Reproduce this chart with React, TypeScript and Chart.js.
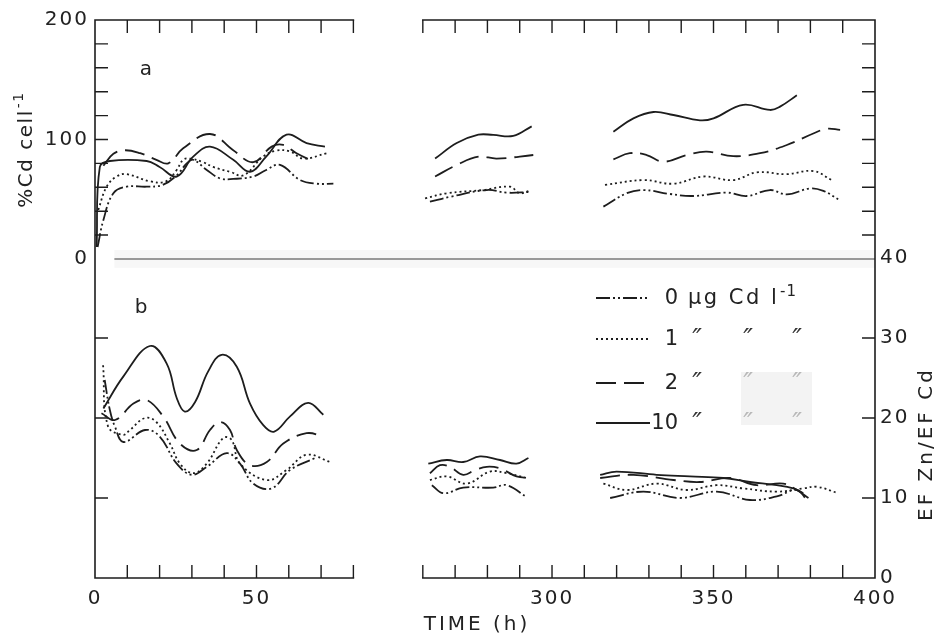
import React, { useEffect, useRef } from 'react';
import { Chart, registerables } from 'chart.js';

Chart.register(...registerables);

// ---- broken time axis: 0–80 h, gap, 260–400 h ----
const SEG1_END = 80;
const SEG2_START = 260;
const GAP = 21.5;
const X_END = 400;
const X_TICK_LABELS = [0, 50, 300, 350, 400];
const X_MINOR_SEG1 = [10, 20, 30, 40, 50, 60, 70, 80];
const X_MINOR_SEG2 = [260, 270, 280, 290, 300, 310, 320, 330, 340, 350, 360, 370, 380, 390];
const Y_LEFT_TICKS = [0, 100, 200];
const Y_LEFT_MINOR = [20, 40, 60, 80, 100, 120, 140, 160, 180];
const Y_RIGHT_TICKS = [0, 10, 20, 30, 40];
const Y_RIGHT_MINOR = [10, 20, 30];

// ---- panel a: % Cd cell-1 (left axis) ----
const a0_t = [0.8, 2.6, 5.7, 9.8, 16, 21, 25.3, 28.4, 30.4, 34.6, 38.7, 42.8, 49, 53, 57.3, 63.5, 68.6, 73.8,
  262.2, 268.4, 279.8, 286, 293.2,
  315.9, 323.1, 328.3, 336.5, 343.7, 354.1, 360.3, 367.5, 372.7, 379.9, 384, 388.6];
const a0_v = [10, 32.6, 55, 60.5, 60.5, 62, 70, 80, 83, 74.5, 67.5, 67, 69, 74.5, 78.7, 66, 63, 63,
  48, 52, 57.7, 55.5, 56,
  43.8, 55, 57.7, 54.4, 52.7, 55.5, 52.7, 57.7, 54, 59, 57, 50];

const a1_t = [1, 3.6, 6.7, 9.8, 17, 22, 25.3, 27.3, 29.4, 33.5, 36.6, 41.8, 46, 52, 56, 60.4, 64.5, 71.7,
  260.7, 267.4, 278.7, 287, 290, 293,
  316.4, 328.3, 337.6, 346.8, 356.1, 363.4, 372.7, 380.9, 386.6];
const a1_v = [41, 60.5, 69, 71, 65, 65, 74.5, 83, 84, 81, 77, 73, 70, 85.6, 90.6, 90, 84, 88.5,
  50.8, 55, 57.7, 60.5, 55, 57,
  62, 66, 63, 69, 66, 72.5, 71, 73.6, 66];

const a2_t = [2.6, 5.7, 9.3, 14, 19, 22.7, 27.3, 35.6, 42.8, 49, 54.7, 58.3, 62.4, 66.6, 68,
  263.8, 270.5, 277.2, 282.9, 294.2,
  319, 324.1, 329.3, 334.5, 341.7, 347.9, 356.1, 364.4, 372.7, 380.9, 385, 389.2];
const a2_v = [78, 88, 91, 88.5, 83, 80, 92.6, 104.6, 91, 81, 94, 95.4, 88.5, 83, 82,
  69, 78.7, 85.6, 84, 87,
  83.4, 88.5, 87, 81.4, 87, 89.8, 86, 88.5, 95.4, 105, 109, 108];

const a10_t = [0.5, 1.5, 4.6, 16, 20, 25.3, 30.4, 35.6, 42.8, 48, 53, 59.3, 65.5, 71.2,
  263.8, 270.5, 277.2, 281.8, 288, 293.7,
  319, 325.2, 331.4, 337.6, 345.8, 350, 359.2, 367.5, 370.6, 375.8];
const a10_v = [10, 77, 82, 82, 77, 69, 85.6, 94, 83, 73, 85.6, 104, 97, 94,
  84, 97, 104, 103.8, 103, 111,
  106.5, 117.7, 123, 120.5, 116, 117.7, 129, 124.7, 127.5, 137];

// ---- panel b: EF Zn / EF Cd (right axis) ----
const b0_t = [3, 4.6, 6.2, 8.8, 15.5, 20, 25.3, 30, 34.6, 40.8, 44.9, 49, 54.7, 60.4, 68.1,
  262.8, 266.4, 272.5, 281.8, 286, 292.2,
  318, 328.3, 339.6, 351, 361.3, 369.6, 375.8, 378.9];
const b0_v = [24.75, 21, 18.9, 17, 18.5, 17.7, 14.3, 12.9, 13.9, 15.6, 14.3, 11.8, 11.2, 13.5, 15,
  11.6, 10.6, 11.3, 11.3, 11.6, 10.1,
  10, 10.8, 10, 10.8, 9.75, 10.2, 11, 9.75];

const b1_t = [2.5, 4, 8.7, 10.8, 15.5, 19, 23.2, 26.3, 30.4, 34.6, 39.7, 42.3, 44.9, 53.2, 59.3, 65.5, 72.8,
  262.2, 267.4, 273.6, 280.8, 286, 292.2,
  315.9, 323.1, 332.4, 341.7, 351, 359.2, 369.6, 377.8, 382, 388.6];
const b1_v = [26.6, 19, 17.9, 18.5, 20, 19.5, 16.8, 14.3, 13.1, 14.3, 17.5, 17.25, 14.3, 12.25, 13.5, 15.4, 14.5,
  12.25, 12.7, 11.8, 13.3, 13.1, 12.5,
  11.8, 11, 11.8, 11, 11.6, 11.2, 10.8, 11.2, 11.4, 10.6];

const b2_t = [2, 6.2, 11.9, 16, 21.1, 26.3, 31.5, 35.6, 38.7, 41.8, 43.9, 48, 53.2, 58.3, 65.5, 70.7,
  262.2, 265.3, 268.4, 272.5, 276.2, 279.8, 283.9, 289, 293.2,
  314.9, 325.2, 337.6, 345.8, 355.1, 363.4, 371.6, 375.8, 379.4];
const b2_v = [20.6, 19.75, 21.8, 22.25, 20.2, 16.8, 16, 18.5, 19.5, 18.5, 16, 14.1, 14.5, 16.8, 18.1, 17.7,
  13.1, 14.1, 13.9, 12.9, 13.5, 13.9, 13.7, 12.7, 12.5,
  12.5, 12.9, 12.25, 12, 12.5, 11.6, 11.8, 11, 10];

const b10_t = [2.6, 8.8, 17, 22.2, 25.3, 27.8, 31, 35, 39.2, 43.9, 48, 52.1, 55.5, 60.4, 66, 70.7,
  261.7, 267.4, 272.5, 277.7, 283.9, 289, 292.7,
  314.9, 320, 332.4, 342.7, 353, 361.3, 369.6, 374.7, 377.8];
const b10_v = [21.2, 25.2, 29, 26.8, 22.5, 20.8, 22, 25.8, 27.9, 26.4, 21.8, 19.1, 18.3, 20.2, 21.9, 20.4,
  14.3, 14.75, 14.5, 15.2, 14.75, 14.3, 15,
  12.9, 13.3, 12.9, 12.7, 12.5, 12, 11.6, 11.2, 10.6];

// ---- legend ----
const LEGEND_KEYS = ['0', '1', '2', '10'];
const DASHES: Record<string, number[]> = {
  '0': [14, 3, 2, 3, 2, 3],
  '1': [2, 3],
  '2': [20, 8],
  '10': [],
};

const INK = '#1d1d1d';
const FONT = '"DejaVu Sans", "Liberation Sans", sans-serif';

const toU = (t: number) => (t <= SEG1_END ? t : t - SEG2_START + SEG1_END + GAP);
const fromU = (u: number) => (u <= SEG1_END + GAP / 2 ? u : u - SEG1_END - GAP + SEG2_START);

function buildPoints(ts: number[], vs: number[]) {
  const pts: { x: number; y: number | null }[] = [];
  for (let i = 0; i < ts.length; i++) {
    if (i > 0 && ts[i] - ts[i - 1] > 20) {
      pts.push({ x: (toU(ts[i - 1]) + toU(ts[i])) / 2, y: null });
    }
    pts.push({ x: toU(ts[i]), y: vs[i] });
  }
  return pts;
}

function ds(key: string, ts: number[], vs: number[], axis: string) {
  return {
    label: key,
    data: buildPoints(ts, vs),
    yAxisID: axis,
    borderColor: INK,
    borderWidth: 1.8,
    borderDash: DASHES[key],
    pointRadius: 0,
    fill: false,
    spanGaps: false,
    tension: 0.4,
  };
}

function drawText(ctx: CanvasRenderingContext2D, s: string, x: number, y: number,
  size = 20, align: CanvasTextAlign = 'left', spacing = '2px', color = '#222', style = '') {
  ctx.save();
  ctx.font = `${style}${size}px ${FONT}`;
  (ctx as any).letterSpacing = spacing;
  ctx.fillStyle = color;
  ctx.textAlign = align;
  ctx.textBaseline = 'middle';
  ctx.fillText(s, x, y);
  ctx.restore();
}

const framePlugin = {
  id: 'brokenFrame',
  beforeDraw(chart: any) {
    (chart.ctx as any).letterSpacing = '2px';
  },
  beforeDatasetsDraw(chart: any) {
    const { ctx, chartArea, scales } = chart;
    const y0 = scales.y.getPixelForValue(0);
    const xs = scales.x.getPixelForValue(toU(6));
    ctx.save();
    ctx.fillStyle = 'rgba(0,0,0,0.03)';
    ctx.fillRect(xs, y0 - 9, chartArea.right - xs, 18);
    ctx.strokeStyle = '#7a7a7a';
    ctx.lineWidth = 1.6;
    ctx.beginPath();
    ctx.moveTo(xs, y0);
    ctx.lineTo(chartArea.right, y0);
    ctx.stroke();
    ctx.restore();
  },
  afterDatasetsDraw(chart: any) {
    const { ctx, chartArea, scales } = chart;
    const { top, bottom, left, right } = chartArea;
    const X = (t: number) => scales.x.getPixelForValue(toU(t));
    const TL = 13;
    ctx.save();
    ctx.strokeStyle = INK;
    ctx.lineWidth = 1.6;
    ctx.lineCap = 'square';
    ctx.beginPath();
    ctx.moveTo(left, top); ctx.lineTo(left, bottom);
    ctx.moveTo(right, top); ctx.lineTo(right, bottom);
    for (const [a, b] of [[0, SEG1_END], [SEG2_START, X_END]]) {
      ctx.moveTo(X(a), top); ctx.lineTo(X(b), top);
      ctx.moveTo(X(a), bottom); ctx.lineTo(X(b), bottom);
    }
    ctx.stroke();
    ctx.lineCap = 'butt';
    ctx.lineWidth = 1.4;
    ctx.beginPath();
    for (const t of [...X_MINOR_SEG1, ...X_MINOR_SEG2]) {
      const x = X(t);
      ctx.moveTo(x, top); ctx.lineTo(x, top + TL);
      ctx.moveTo(x, bottom); ctx.lineTo(x, bottom - TL);
    }
    for (const v of Y_LEFT_MINOR) {
      const y = scales.y.getPixelForValue(v);
      ctx.moveTo(left, y); ctx.lineTo(left + TL, y);
      ctx.moveTo(right, y); ctx.lineTo(right - TL, y);
    }
    for (const v of Y_RIGHT_MINOR) {
      const y = scales.y2.getPixelForValue(v);
      ctx.moveTo(left, y); ctx.lineTo(left + TL, y);
      ctx.moveTo(right, y); ctx.lineTo(right - TL, y);
    }
    ctx.stroke();
    ctx.restore();
  },
  afterDraw(chart: any) {
    const { ctx, chartArea } = chart;
    (ctx as any).letterSpacing = '0px';

    drawText(ctx, 'a', chartArea.left + 51, chartArea.top + 50, 20, 'center', '0px');
    drawText(ctx, 'b', chartArea.left + 46, chartArea.top + 288, 20, 'center', '0px');

    // left axis title (rotated)
    ctx.save();
    ctx.translate(27, 150);
    ctx.rotate(-Math.PI / 2);
    ctx.fillStyle = '#222';
    ctx.textBaseline = 'middle';
    ctx.textAlign = 'left';
    (ctx as any).letterSpacing = '1.5px';
    ctx.font = `20px ${FONT}`;
    const main = '%Cd cell';
    const w1 = ctx.measureText(main).width;
    ctx.font = `14px ${FONT}`;
    const w2 = ctx.measureText('-1').width;
    const x0 = -(w1 + w2) / 2;
    ctx.font = `20px ${FONT}`;
    ctx.fillText(main, x0, 0);
    ctx.font = `14px ${FONT}`;
    ctx.fillText('-1', x0 + w1 + 1, -8);
    ctx.restore();

    // right axis title (rotated)
    ctx.save();
    ctx.translate(927, 444);
    ctx.rotate(-Math.PI / 2);
    drawText(ctx, 'EF Zn/EF Cd', 0, 0, 20, 'center', '3px');
    ctx.restore();

    drawText(ctx, 'TIME (h)', 477, 625, 20, 'center', '3px');

    // legend
    const rowsY = [298, 339, 383, 423];
    const lx0 = 596, lx1 = 650, numRight = 678;
    ctx.save();
    ctx.fillStyle = '#f3f3f3';
    ctx.fillRect(741, 372, 71, 53);
    ctx.restore();
    LEGEND_KEYS.forEach((key, i) => {
      const y = rowsY[i];
      ctx.save();
      ctx.strokeStyle = INK;
      ctx.lineWidth = 1.8;
      ctx.setLineDash(DASHES[key]);
      ctx.beginPath();
      ctx.moveTo(lx0, y);
      ctx.lineTo(lx1, y);
      ctx.stroke();
      ctx.restore();
      drawText(ctx, key, numRight, y + 1, 21, 'right', '0px');
      if (i === 0) {
        drawText(ctx, 'µg Cd l', 688, y + 1, 21, 'left', '2.5px');
        drawText(ctx, '-1', 780, y - 6, 15, 'left', '1px');
      } else {
        const cols = [697, 748, 797];
        cols.forEach((cx, j) => {
          const faint = i >= 2 && j >= 1;
          drawText(ctx, '″', cx, y + 2, 26, 'center', '0px', faint ? '#b8b8b8' : '#333', 'italic ');
        });
      }
    });
  },
};

export default function App() {
  const ref = useRef<HTMLCanvasElement | null>(null);

  useEffect(() => {
    if (!ref.current) return;
    Chart.defaults.font.family = FONT;
    const chart = new Chart(ref.current, {
      type: 'line',
      data: {
        datasets: [
          ds('0', a0_t, a0_v, 'y'),
          ds('1', a1_t, a1_v, 'y'),
          ds('2', a2_t, a2_v, 'y'),
          ds('10', a10_t, a10_v, 'y'),
          ds('0', b0_t, b0_v, 'y2'),
          ds('1', b1_t, b1_v, 'y2'),
          ds('2', b2_t, b2_v, 'y2'),
          ds('10', b10_t, b10_v, 'y2'),
        ] as any,
      },
      options: {
        responsive: false,
        animation: false,
        devicePixelRatio: 1,
        layout: { padding: { top: 20, left: 0, right: 0, bottom: 0 } },
        plugins: { legend: { display: false }, tooltip: { enabled: false } },
        scales: {
          x: {
            type: 'linear',
            min: 0,
            max: toU(X_END),
            grid: { display: false, drawTicks: false },
            border: { display: false },
            afterBuildTicks: (s: any) => { s.ticks = X_TICK_LABELS.map((t) => ({ value: toU(t) })); },
            afterFit: (s: any) => { s.height = 59; },
            ticks: {
              autoSkip: false,
              maxRotation: 0,
              padding: 9,
              color: '#222',
              font: { size: 20, family: FONT },
              callback: (v: any) => String(Math.round(fromU(Number(v)))),
            },
          },
          y: {
            type: 'linear',
            position: 'left',
            min: -267,
            max: 200,
            grid: { display: false, drawTicks: false },
            border: { display: false },
            afterBuildTicks: (s: any) => { s.ticks = Y_LEFT_TICKS.map((v) => ({ value: v })); },
            afterFit: (s: any) => { s.width = 95; },
            ticks: { padding: 6, color: '#222', font: { size: 20, family: FONT } },
          },
          y2: {
            type: 'linear',
            position: 'right',
            min: 0,
            max: 69.75,
            grid: { display: false, drawTicks: false },
            border: { display: false },
            afterBuildTicks: (s: any) => { s.ticks = Y_RIGHT_TICKS.map((v) => ({ value: v })); },
            afterFit: (s: any) => { s.width = 63; },
            ticks: { padding: 5, color: '#222', font: { size: 20, family: FONT } },
          },
        },
      },
      plugins: [framePlugin as any],
    });
    return () => chart.destroy();
  }, []);

  return (
    <div style={{ position: 'fixed', left: 0, top: 0, width: 938, height: 637, background: '#fff' }}>
      <canvas ref={ref} width={938} height={637} />
    </div>
  );
}
